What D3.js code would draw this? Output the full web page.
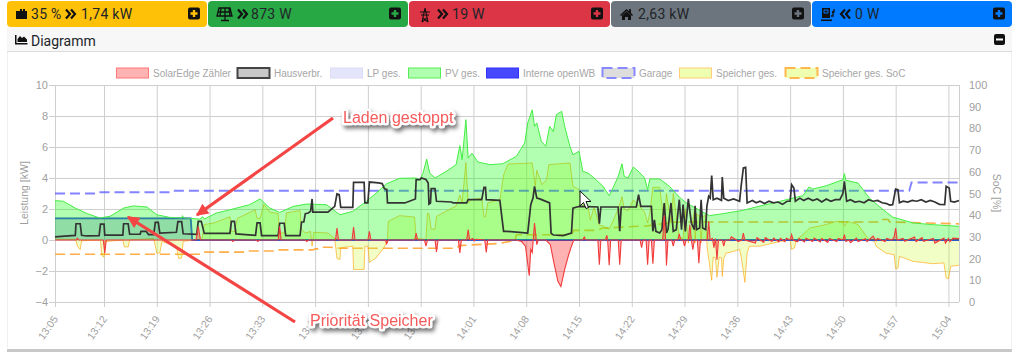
<!DOCTYPE html>
<html>
<head>
<meta charset="utf-8">
<script src="https://cdn.jsdelivr.net/npm/d3@7"></script>
<style>
  html, body { margin: 0; padding: 0; background: #fff; overflow: hidden; }
  svg { display: block; }
</style>
</head>
<body>
<div id="chart"></div>
<script>
// all times are minutes after 13:05, power in kW, soc in %
const tickLabels = ["13:05", "13:12", "13:19", "13:26", "13:33", "13:40", "13:47", "13:54", "14:01", "14:08", "14:15", "14:22", "14:29", "14:36", "14:43", "14:50", "14:57", "15:04"]
const tickMinutes = [0, 7, 14, 21, 28, 35, 42, 49, 56, 63, 70, 77, 84, 91, 98, 105, 112, 119]
const powerTicks = [-4, -2, 0, 2, 4, 6, 8, 10]
const socTicks = [0, 10, 20, 30, 40, 50, 60, 70, 80, 90, 100]

const pvMin = [0, 1.2, 2.9, 4.6, 6.4, 7.8, 9.6, 10.9, 12.7, 14, 15.7, 17.3, 17.4, 17.6, 19.7, 20.1, 20.3, 21.9, 24.1, 26.3, 27.7, 29, 30.3, 32.1, 33.9, 36.5, 38.3, 40, 41.8, 43.1, 44.5, 46.2, 48.4, 48.9, 49.3, 49.8, 50.2, 50.9, 52.4, 53.7, 54.2, 54.5, 55, 55.3, 55.8, 56.6, 58.2, 59.9, 61.7, 62.8, 63.2, 63.8, 64.1, 64.4, 65, 65.6, 66.1, 66.6, 67, 67.7, 68.1, 68.8, 69.2, 70, 70.5, 71.2, 72, 73.2, 74, 74.3, 75.2, 75.7, 76, 76.5, 77.2, 78, 78.7, 79.1, 79.4, 80.7, 82, 83.3, 84.2, 87.3, 89.1, 91.7, 93.5, 96.6, 99.7, 100.5, 101, 102.8, 105, 105.2, 105.4, 107, 108.5, 109.8, 111.6, 114.3, 116.9, 120.4]
const pvKw = [2.54, 2.5, 2.06, 1.7, 1.42, 1.53, 2.06, 2.2, 2.13, 1.63, 1.46, 1.42, 1.57, 1.42, 1.35, 1.5, 1.35, 1.74, 2.0, 2.28, 2.65, 2.06, 1.78, 2.17, 2.32, 2.28, 1.63, 1.85, 2.5, 3.03, 3.63, 3.98, 4.0, 3.9, 4.3, 5.22, 4.32, 4.0, 4.43, 4.86, 6.09, 5.18, 7.76, 5.29, 5.6, 5.03, 4.86, 4.92, 5.4, 6.26, 7.55, 8.4, 7.33, 7.55, 6.37, 6.04, 7.33, 7.0, 8.09, 8.3, 7.33, 6.04, 5.5, 5.72, 4.43, 4.32, 4.0, 3.46, 2.86, 3.14, 4.1, 4.92, 4.1, 4.0, 4.71, 4.37, 4.0, 3.25, 3.94, 3.94, 3.46, 2.77, 2.4, 1.57, 1.7, 1.91, 2.13, 2.49, 2.86, 3.42, 3.29, 3.5, 3.89, 4.28, 3.85, 3.68, 2.71, 2.17, 1.48, 1.1, 0.99, 0.88]

const hausMin = [0, 1.4, 2.9, 3, 3.6, 3.8, 4.5, 6.3, 6.5, 7, 7.1, 9.5, 9.6, 10.2, 10.4, 11.8, 11.9, 12.6, 12.9, 13.6, 13.8, 14.2, 14.4, 16.6, 16.8, 17.3, 17.5, 19.3, 19.5, 19.9, 20.3, 23.7, 23.9, 24.3, 24.5, 27.1, 27.3, 27.7, 27.9, 30.1, 30.3, 30.9, 31.1, 33, 33.2, 33.5, 33.7, 34.1, 34.4, 34.6, 34.7, 36.7, 37.6, 37.9, 38.2, 38.4, 40, 40.1, 41.5, 41.6, 42, 42.2, 43.4, 43.9, 44.2, 44.5, 44.6, 46.9, 48.3, 48.4, 48.9, 49.1, 49.7, 50, 50.1, 50.3, 50.4, 50.9, 51.1, 53.1, 53.3, 55.1, 55.3, 57.1, 57.4, 57.6, 57.7, 59.5, 60, 60.4, 63.2, 63.6, 63.9, 64.1, 64.4, 64.8, 66.1, 66.3, 66.6, 67.9, 69, 69.2, 69.7, 70.1, 72.5, 72.7, 72.9, 75.2, 75.4, 75.6, 77.6, 77.9, 78.2, 79.6, 79.8, 80, 80.2, 80.7, 81, 81.3, 81.6, 81.8, 82.2, 82.5, 82.9, 83.3, 83.6, 83.8, 84.1, 84.5, 84.9, 85.3, 85.4, 85.6, 86, 86.2, 86.4, 86.8, 86.96, 87.2, 87.4, 87.6, 87.8, 88.3, 88.9, 89, 89.2, 89.8, 90.5, 91.3, 91.5, 91.8, 92.1, 92.3, 93, 93.5, 94, 94.6, 95.2, 95.8, 96.4, 97, 97.6, 98, 98.2, 98.5, 98.7, 99.3, 99.8, 100.4, 101, 101.6, 102.2, 102.8, 103.4, 104, 104.6, 105, 105.2, 105.5, 106, 106.6, 107.2, 107.8, 108.4, 109, 109.6, 110.2, 110.8, 111.2, 111.6, 112, 112.3, 112.5, 113, 113.6, 114.2, 114.8, 115.4, 116, 116.6, 117.2, 117.8, 118.5, 118.7, 119.1, 119.3, 119.8, 120.4]
const hausKw = [0.2, 0.25, 0.3, 1.05, 1.05, 0.3, 0.26, 0.28, 1.03, 1.03, 0.32, 0.32, 1.05, 1.05, 0.37, 0.37, 0.56, 0.56, 0.35, 0.35, 1.14, 1.14, 0.45, 0.5, 1.18, 1.18, 0.4, 0.37, 1.2, 1.2, 0.43, 0.43, 1.2, 1.2, 0.39, 0.3, 1.1, 1.1, 0.28, 0.28, 1.08, 1.08, 0.28, 0.28, 1.16, 1.16, 1.7, 1.74, 1.85, 2.65, 1.8, 1.8, 2.17, 2.97, 2.92, 2.1, 2.1, 3.72, 3.72, 2.39, 2.39, 3.74, 3.68, 3.64, 3.3, 3.26, 2.39, 2.39, 2.65, 3.9, 3.9, 4, 3.9, 3.67, 2.32, 2.39, 3.31, 3.31, 2.5, 2.45, 2.39, 2.39, 2.6, 2.6, 3.4, 3.4, 2.6, 2.56, 0.56, 0.56, 0.45, 2.28, 2.71, 3.46, 2.71, 2.65, 2.39, 0.45, 0.32, 0.28, 0.45, 2.06, 2.13, 2.17, 2.13, 1.05, 2.13, 2.13, 0.56, 2.13, 2.13, 2.92, 2.17, 2.17, 0.56, 1.3, 0.56, 0.45, 0.67, 2.39, 0.45, 0.67, 2.39, 0.56, 0.67, 2.6, 0.67, 2.28, 0.56, 2.65, 1.1, 0.67, 2.2, 0.67, 0.78, 2.6, 0.78, 0.67, 2.17, 2.82, 2.7, 4.15, 2.6, 2.7, 2.56, 4.06, 2.7, 2.55, 2.65, 2.5, 3.46, 4.65, 4.69, 2.39, 2.55, 2.4, 2.5, 2.35, 2.5, 2.4, 2.45, 2.3, 2.5, 2.5, 3.57, 3.35, 2.5, 2.7, 2.55, 2.7, 2.55, 2.65, 2.45, 2.65, 2.5, 2.6, 2.6, 3, 3.78, 2.5, 2.6, 2.45, 2.5, 2.4, 2.6, 2.5, 2.55, 2.4, 2.35, 2.25, 2.28, 3.29, 3.25, 2.4, 2.5, 2.45, 2.55, 2.5, 2.6, 2.45, 2.55, 2.45, 2.3, 2.28, 3.46, 3.35, 2.5, 2.45, 2.55]

const speicherMin = [0, 2.9, 3, 3.2, 3.6, 3.8, 6.3, 6.5, 6.7, 7, 7.2, 9.5, 9.7, 10.2, 10.4, 13.6, 13.8, 14, 14.4, 14.7, 16.6, 16.9, 17.3, 17.5, 18.6, 20, 20.3, 21.6, 23.7, 23.9, 24.3, 24.7, 27.05, 27.3, 27.7, 28.2, 29, 30.1, 30.3, 30.9, 31.2, 33, 33.2, 33.7, 34.4, 34.6, 34.8, 36.7, 37.6, 37.9, 38.3, 38.4, 40, 40.1, 41.5, 41.6, 42, 42.2, 43.1, 44.2, 44.6, 44.7, 46.2, 48.2, 48.4, 49.7, 49.9, 50.1, 50.4, 50.9, 51.1, 53.7, 54.2, 54.5, 55, 55.3, 55.8, 57.1, 57.4, 57.6, 57.9, 59.5, 60, 60.6, 63.8, 64.2, 64.4, 65.1, 65.7, 66, 68.8, 69.2, 70, 70.6, 71.2, 71.5, 72, 72.7, 73.2, 74, 74.3, 75.2, 75.7, 76, 76.5, 77.2, 78, 78.7, 79.1, 79.4, 79.8, 80.7, 81.3, 81.6, 82.2, 82.5, 83.3, 83.8, 84.1, 84.5, 85, 85.3, 85.4, 85.6, 86, 86.2, 86.4, 86.8, 87, 87.2, 87.6, 87.8, 88.1, 88.3, 88.6, 88.9, 89, 89.2, 89.5, 90.4, 91.3, 91.5, 91.7, 92, 92.3, 92.6, 94, 96.6, 98, 98.2, 98.6, 98.8, 99.7, 100.6, 102.8, 104.1, 105, 105.2, 105.6, 107, 108.1, 108.5, 109.2, 109.4, 110.7, 111.8, 112, 112.3, 112.5, 114.3, 115.6, 116.9, 118.4, 118.7, 119, 119.3, 120.4]
const speicherKw = [0.05, 0.05, -0.05, -0.4, -0.62, -0.05, 0, -0.1, -1, -1.1, -0.1, 0, -0.45, -0.45, 0, 0.1, -0.4, -0.84, -0.84, -0.1, -0.4, -1.2, -1.16, -0.1, 0, 0.05, 1, 1.1, 1.5, 0.55, 0.55, 1.4, 1.95, 1.4, 1.4, 2.3, 1.8, 1.7, 0.45, 0.45, 1.75, 1.9, 0.7, 0.45, 0.55, -0.4, 0.5, 0.45, 0.1, -1.2, -1.25, -0.5, -0.4, -1.9, -1.9, -0.4, -0.4, -1.44, -1.15, -0.45, 0.05, 1.2, 1.57, 1.48, 0.1, 0.05, 1.74, 1.7, 0.7, 0.7, 1.53, 2.2, 2.9, 2.4, 5, 2.4, 2.6, 2.7, 1.5, 1.5, 2.4, 2.6, 4.2, 4.9, 4.97, 3.5, 4.5, 3.57, 3.9, 4.86, 4.97, 3.46, 3.25, 2.17, 2.17, 1.3, 2.1, 0.95, 0.9, 0.7, 1, 2, 2.8, 2, 1.9, 2.58, 2.2, 1.8, 1.1, 1.77, 3.4, 3.4, 1.1, 3, 1.1, 3, 0.2, 0.1, 2, -0.2, 1, 1.9, -0.2, 1.7, 1.5, -0.2, 1.5, 1.6, -0.5, -1.2, -2.6, -1.1, -1.15, -2.4, -1.1, -1.15, -2.35, -1.2, -0.85, -0.75, -0.6, -1.05, -1.7, -2.73, -0.85, -0.4, -0.4, -0.1, 0, -0.6, -0.5, 0, 0.35, 0.77, 1, 1.2, 1.2, 0.9, 1.2, 1, 0.25, 0, -0.1, -0.4, -0.85, -0.95, -1.85, -1.8, -1.05, -1.38, -1.45, -1.53, -1.48, -2.45, -2.5, -1.7, -1.63]

const zaehlerMin = [
  0, 3, 3.2, 3.4,
  6.9, 7.1, 7.3,
  19.2, 19.5, 19.8,
  23.9, 24.1, 24.3,
  27.2, 27.4, 27.6,
  30.1, 30.3, 30.5,
  33.7, 33.9, 34.1,
  37.7, 37.9, 38.1,
  39.9, 40.1, 40.3,
  42, 42.2, 42.4,
  44.3, 44.5, 44.7,
  48.2, 48.4, 48.6,
  49.5, 49.7, 49.9,
  50.9, 51.1, 51.3,
  54, 54.2, 54.4,
  55.1, 55.3, 55.5,
  55.9, 56.1, 56.3,
  57.5, 57.7, 57.9,
  59.5, 61.6, 62.4, 62.9, 63.4, 63.6, 63.8, 64.1, 64.4, 64.6,
  65.6, 66.2, 66.6, 67.2, 67.6, 68.1, 68.6, 69, 69.3,
  70.5, 70.7, 70.9,
  72.5, 72.7, 72.9,
  73.5, 73.7, 73.8, 74, 74.2,
  75.2, 75.4, 75.6,
  78.1, 78.3, 78.5,
  78.9, 79.1, 79.3,
  79.6, 79.8, 80,
  81.1, 81.3, 81.5, 81.6, 81.8,
  82.3, 82.5, 82.7,
  83.1, 83.3, 83.5,
  83.8, 84, 84.2,
  84.5, 84.7, 84.9, 85.1, 85.3,
  85.7, 85.9, 86.1,
  87, 87.2, 87.4,
  87.7, 87.9, 88.1, 88.3, 88.5,
  89, 89.2, 89.4,
  90, 90.2, 90.9, 91.1, 91.6, 91.8, 92,
  93.4, 93.6, 94.5, 94.7, 95.6, 95.8, 96.5, 96.7, 97.3, 97.5,
  98, 98.2, 98.4, 99, 99.2, 99.9, 100.1, 101, 101.2, 102, 102.2,
  103, 103.2, 104.2, 104.4, 105, 105.2, 105.4, 105.8, 106, 106.8, 107,
  108, 108.2, 109, 109.4, 109.6, 110.6, 110.8, 111.5, 111.8, 112, 112.2,
  113, 113.2, 114.5, 114.7, 115.5, 115.7, 117, 117.2, 118.4, 118.6, 119, 119.2, 119.6, 120.4
]
const zaehlerKw = [
  0, 0, 0.12, 0,
  0, -0.85, 0,
  0, 0.88, 0,
  0, -0.1, 0,
  0, -0.1, 0,
  0, 0.88, 0,
  0, -0.1, 0,
  0, 0.77, 0,
  0, 0.84, 0,
  0, 0.56, 0,
  0, -0.24, 0,
  0, 0.45, 0,
  0, -0.4, 0,
  0, -0.77, 0,
  0, -0.84, 0,
  0, 0.67, 0,
  0.1, -0.05, 0.05,
  0, -0.8, 0,
  0, 0, -0.1, -0.4, -2.3, -0.6, -0.8, 1.1, -0.3, 0,
  0, -0.3, -1.3, -2.67, -3, -1.9, -1, -0.4, 0,
  0, 0.2, 0,
  0, -1.6, 0,
  0, 0.3, 0, -1.63, 0,
  0, -1.6, 0,
  0, -0.5, 0,
  0, -1.6, 0,
  0, -1.53, 0,
  0, 1.6, 0, -1.65, 0,
  0, -0.4, 0,
  0, 0.4, 0,
  0, -0.4, 0,
  0, 1, 0, -0.62, 0,
  0, -1.5, 0,
  0, 1.2, 0,
  0.1, -0.5, 0.1, -1.27, 0,
  0, -0.4, 0,
  0, 0.2, 0, -0.1, 0, 0.45, 0,
  -0.2, 0.15, -0.15, 0.15, -0.1, 0.12, -0.12, 0.1, -0.1, 0.12,
  0, 0.35, 0, -0.12, 0.1, -0.12, 0.12, -0.1, 0.12, -0.12, 0.1,
  -0.15, 0.1, -0.1, 0.1, 0, 0.35, -0.1, 0, -0.18, 0.12, -0.1,
  0.08, -0.1, 0.25, -0.05, 0.1, -0.1, 0.1, 0, 0.2, 0.77, 0,
  0.1, -0.08, 0.2, -0.1, 0.15, -0.08, 0.1, -0.2, 0.12, -0.2, 0.1, -0.1, 0.12, 0.1
]

const interneMin = [0, 18.5, 18.7, 120.4]
const interneKw = [1.4, 1.4, 0, 0]
const lpMin = [0, 18.5, 18.7, 120.4]
const lpKw = [1.4, 1.4, 0, 0]

const garageMin = [0, 6, 6.2, 16, 16.2, 113.8, 114.1, 120.4]
const garageSoc = [50, 50, 50.6, 50.6, 51.3, 51.3, 55.1, 55.1]

const speicherSocMin = [0, 19.8, 20.1, 25.8, 26, 29.5, 29.8, 34.7, 35, 35.4, 35.7, 37, 38.3, 53.8, 54.1, 59.5, 61.5, 61.7, 69, 69.3, 72.5, 73, 79, 83, 87, 87.3, 109.8, 110, 111, 111.2, 120.4]
const speicherSoc = [22, 22, 23, 23, 23.5, 23.5, 24, 24, 24.5, 24.5, 25.2, 25.2, 24.8, 24.8, 26, 27, 28.4, 31, 31, 33, 33, 34, 35.1, 36.9, 36.9, 36.9, 36.9, 38, 38, 36.9, 36]

const width = 1023
const height = 352
const plot = { left: 55, right: 959, top: 85, bottom: 302 }

const svg = d3.select("#chart")
  .append("svg")
  .attr("width", width)
  .attr("height", height)
  .style("font-family", "'Liberation Sans', sans-serif")

// time axis is slightly squeezed over its first label step, like the original
const xScale = d3.scaleLinear()
  .domain([0, 7, 120.4])
  .range([plot.left, 104, plot.right])

const yPower = d3.scaleLinear()
  .domain([-4, 10])
  .range([plot.bottom, plot.top])

const ySoc = d3.scaleLinear()
  .domain([0, 100])
  .range([plot.bottom, plot.top])

// ---- header buttons ----
const buttons = [
  { x: 7, w: 200, fill: "#ffc107", plus: "#ffc107" },
  { x: 208, w: 200, fill: "#28a745", plus: "#28a745" },
  { x: 409, w: 201, fill: "#dc3545", plus: "#dc3545" },
  { x: 611, w: 200, fill: "#6c757d", plus: "#6c757d" },
  { x: 812, w: 200, fill: "#007bff", plus: "#007bff" }
]

svg.selectAll(".btn")
  .data(buttons)
  .enter()
  .append("rect")
  .attr("class", "btn")
  .attr("x", d => d.x)
  .attr("y", 1)
  .attr("width", d => d.w)
  .attr("height", 26)
  .attr("rx", 4)
  .attr("fill", d => d.fill)

buttons.forEach(b => {
  const px = b.x + b.w - 19
  svg.append("rect").attr("x", px).attr("y", 7.5).attr("width", 12).attr("height", 12).attr("rx", 2).attr("fill", "#111")
  svg.append("path")
    .attr("d", `M${px + 6},${10} V${17} M${px + 2.5},${13.5} H${px + 9.5}`)
    .attr("stroke", b.plus)
    .attr("stroke-width", 2.4)
})

const headerTexts = [
  { x: 31, text: "35 %" },
  { x: 81, text: "1,74 kW" },
  { x: 251, text: "873 W" },
  { x: 452, text: "19 W" },
  { x: 638, text: "2,63 kW" },
  { x: 855, text: "0 W" }
]

svg.selectAll(".head")
  .data(headerTexts)
  .enter()
  .append("text")
  .attr("class", "head")
  .attr("x", d => d.x)
  .attr("y", 19)
  .attr("fill", "#212529")
  .style("font-family", "Roboto, sans-serif")
  .style("font-size", "14px")
  .style("letter-spacing", "0.3px")
  .text(d => d.text)

// double chevrons between icon and value
function chevrons(x, right) {
  const s = right ? 1 : -1
  const x0 = right ? x : x + 9
  const d = [0, 5].map(o => `M${x0 + s * o},9.5 l${s * 4},4.5 l${-s * 4},4.5`).join(" ")
  svg.append("path").attr("d", d).attr("fill", "none").attr("stroke", "#111").attr("stroke-width", 2.2)
}
chevrons(66, true)
chevrons(238, true)
chevrons(438, true)
chevrons(841, false)

// small header icons
const ink = "#111"
svg.append("path").attr("fill", ink).attr("d", "M16,11 h4 v-2 h2 v2 h1 v-2 h2 v2 h2 v8 h-11 z")
svg.append("path").attr("fill", "none").attr("stroke", ink).attr("stroke-width", 1.3)
  .attr("d", "M219,8 h11 l2,8 h-15 z M218,12 h13 M221,8 l-1,8 M225,8 v8 M229,8 l1,8 M225,16 v4 M221,20.5 h8")
svg.append("path").attr("fill", "none").attr("stroke", ink).attr("stroke-width", 1.1)
  .attr("d", "M425,8 l-3,14 M425,8 l3,14 M420,12 h10 M421,15 h8 M423,18 l5,4 M427,18 l-5,4")
svg.append("path").attr("fill", ink).attr("d", "M620,15 l6.5,-6 l2.5,2.3 v-2 h2 v3.8 l2,1.9 l-1,1 l-5.5,-5 l-5.5,5 z M622,15.5 l4.5,-4 l4.5,4 v4.5 h-3 v-3 h-3 v3 h-3 z")
svg.append("path").attr("fill", ink).attr("d", "M822,8 h8 v10 h-8 z M821,19.5 h11 v1.5 h-11 z")
svg.append("path").attr("fill", "none").attr("stroke", "#007bff").attr("stroke-width", 1).attr("d", "M824,10 h4 v3 h-4 z")
svg.append("path").attr("fill", "none").attr("stroke", ink).attr("stroke-width", 1.3).attr("d", "M831,16 h2 v-5 M834,9 v3 h-2")

// ---- card header ----
svg.append("rect").attr("x", 7).attr("y", 27).attr("width", 1005).attr("height", 24).attr("fill", "#f7f7f7")
svg.append("line").attr("x1", 7).attr("x2", 1012).attr("y1", 51.5).attr("y2", 51.5).attr("stroke", "#dcdcdc")
svg.append("line").attr("x1", 7.5).attr("x2", 7.5).attr("y1", 52).attr("y2", 348).attr("stroke", "#f0f0f0")
svg.append("line").attr("x1", 1011.5).attr("x2", 1011.5).attr("y1", 52).attr("y2", 348).attr("stroke", "#f0f0f0")
svg.append("rect").attr("x", 7).attr("y", 349).attr("width", 1005).attr("height", 3).attr("fill", "#c8c8c8")

svg.append("path").attr("fill", ink).attr("d", "M15,35 h1.5 v8 h11 v1.5 h-12.5 z M17.5,42 v-3 l2.5,-3 l2,2 l2,-1.5 l3,3 v2.5 z")
svg.append("text")
  .attr("x", 31).attr("y", 45.5)
  .attr("fill", "#212529")
  .style("font-family", "Roboto, sans-serif")
  .style("font-size", "14px")
  .text("Diagramm")
svg.append("rect").attr("x", 994).attr("y", 34).attr("width", 11).attr("height", 11).attr("rx", 2).attr("fill", "#111")
svg.append("rect").attr("x", 996).attr("y", 38.5).attr("width", 7).attr("height", 2).attr("fill", "#fff")

// ---- legend ----
const legend = [
  { x: 116, name: "SolarEdge Zähler", fill: "#ffb3b3", stroke: "#ff7777" },
  { x: 237, name: "Hausverbr.", fill: "#c8c8c8", stroke: "#444444", sw: 2 },
  { x: 330, name: "LP ges.", fill: "#e4e4fa", stroke: "#dcdcf5" },
  { x: 408, name: "PV ges.", fill: "#b0ffb0", stroke: "#55ee55" },
  { x: 486, name: "Interne openWB", fill: "#4848ff", stroke: "#3030ff" },
  { x: 602, name: "Garage", fill: "#dddddd", stroke: "#8888ff", dash: "10,5", sw: 2 },
  { x: 679, name: "Speicher ges.", fill: "#eeffb0", stroke: "#ffcc77" },
  { x: 785, name: "Speicher ges. SoC", fill: "#eeffb0", stroke: "#ffb84d", dash: "10,5", sw: 2 }
]

const legendItems = svg.selectAll(".legend")
  .data(legend)
  .enter()
  .append("g")
  .attr("class", "legend")
  .attr("transform", d => `translate(${d.x},67.5)`)

legendItems.append("rect")
  .attr("x", 0.5).attr("y", 0.5)
  .attr("width", 32).attr("height", 10)
  .attr("fill", d => d.fill)
  .attr("stroke", d => d.stroke)
  .attr("stroke-width", d => d.sw || 1)
  .attr("stroke-dasharray", d => d.dash || null)

legendItems.append("text")
  .attr("x", 37).attr("y", 9)
  .attr("fill", "#a6a6a6")
  .style("font-size", "10px")
  .text(d => d.name)

// ---- axes and grid ----
const axisColor = "#a0a0a0"
const gridColor = "#cfcfcf"

const yAxisLeft = svg.append("g")
  .attr("transform", "translate(49,0)")
  .call(d3.axisLeft(yPower).tickValues(powerTicks).tickSize(-(plot.right - 49)).tickPadding(1))

const xAxis = svg.append("g")
  .attr("transform", `translate(0,${plot.bottom + 5})`)
  .call(d3.axisBottom(xScale)
    .tickValues(tickMinutes)
    .tickFormat((d, i) => tickLabels[i])
    .tickSize(-(plot.bottom + 5 - plot.top)))

xAxis.selectAll("text")
  .attr("text-anchor", "end")
  .attr("dx", 0)
  .attr("dy", 0)
  .attr("y", 0)
  .attr("transform", "translate(3,12) rotate(-55)")

const yAxisRight = svg.append("g")
  .attr("transform", `translate(${plot.right},0)`)
  .call(d3.axisRight(ySoc).tickValues(socTicks).tickSize(0).tickPadding(10))

svg.selectAll(".domain").attr("stroke", "none")
svg.selectAll(".tick line").attr("stroke", gridColor)
svg.selectAll(".tick text").attr("fill", axisColor).style("font-size", "11px")
xAxis.selectAll("text").style("font-size", "10.5px")
yAxisRight.append("line")
  .attr("x1", 0.5).attr("x2", 0.5)
  .attr("y1", plot.top).attr("y2", plot.bottom)
  .attr("stroke", gridColor)

svg.append("text")
  .attr("transform", "translate(28,193) rotate(-90)")
  .attr("text-anchor", "middle")
  .attr("fill", axisColor)
  .style("font-size", "10.5px")
  .text("Leistung [kW]")

svg.append("text")
  .attr("transform", "translate(993,193) rotate(90)")
  .attr("text-anchor", "middle")
  .attr("fill", axisColor)
  .style("font-size", "10.5px")
  .text("SoC [%]")

// ---- series, last legend entry drawn first so red ends up on top ----
function zip(xs, ys) {
  return xs.map((x, i) => [x, ys[i]])
}

const powerLine = d3.line().x(d => xScale(d[0])).y(d => yPower(d[1]))
const socLine = d3.line().x(d => xScale(d[0])).y(d => ySoc(d[1]))
const powerArea = d3.area().x(d => xScale(d[0])).y0(yPower(0)).y1(d => yPower(d[1]))

function addArea(data, fill, stroke, strokeWidth) {
  svg.append("path").datum(data).attr("d", powerArea).attr("fill", fill)
  svg.append("path").datum(data).attr("d", powerLine)
    .attr("fill", "none")
    .attr("stroke", stroke)
    .attr("stroke-width", strokeWidth)
}

function addDashed(data, stroke, strokeWidth) {
  svg.append("path").datum(data).attr("d", socLine)
    .attr("fill", "none")
    .attr("stroke", stroke)
    .attr("stroke-width", strokeWidth)
    .attr("stroke-dasharray", "10,5")
}

addDashed(zip(speicherSocMin, speicherSoc), "rgba(255,160,40,0.85)", 1.6)
addArea(zip(speicherMin, speicherKw), "rgba(205,250,40,0.27)", "rgba(255,160,0,0.6)", 1)
addDashed(zip(garageMin, garageSoc), "rgba(90,90,255,0.75)", 1.9)
addArea(zip(interneMin, interneKw), "rgba(0,40,130,0.17)", "#2050c8", 1.8)
addArea(zip(pvMin, pvKw), "rgba(0,255,0,0.3)", "#44ee44", 1)
addArea(zip(lpMin, lpKw), "rgba(80,80,220,0.06)", "rgba(120,120,240,0.3)", 1)
svg.append("path").datum(zip(hausMin, hausKw)).attr("d", powerLine)
  .attr("fill", "none")
  .attr("stroke", "#333")
  .attr("stroke-width", 1.7)
addArea(zip(zaehlerMin, zaehlerKw), "rgba(255,0,0,0.3)", "#f03c3c", 1.1)

// ---- screenshot annotations ----
const defs = svg.append("defs")
defs.append("marker")
  .attr("id", "head")
  .attr("viewBox", "0 0 10 10")
  .attr("refX", 9)
  .attr("refY", 5)
  .attr("markerWidth", 4.6)
  .attr("markerHeight", 3.8)
  .attr("orient", "auto")
  .append("path")
  .attr("d", "M0,0 L10,5 L0,10 z")
  .attr("fill", "#f44545")

const arrows = [
  { x1: 333, y1: 118, x2: 197, y2: 215 },
  { x1: 295, y1: 322, x2: 128, y2: 217 }
]

svg.selectAll(".arrow")
  .data(arrows)
  .enter()
  .append("line")
  .attr("class", "arrow")
  .attr("x1", d => d.x1)
  .attr("y1", d => d.y1)
  .attr("x2", d => d.x2)
  .attr("y2", d => d.y2)
  .attr("stroke", "#f44545")
  .attr("stroke-width", 3.2)
  .attr("marker-end", "url(#head)")

const notes = [
  { x: 343, y: 123, text: "Laden gestoppt" },
  { x: 310, y: 326, text: "Priorität Speicher" }
]

svg.selectAll(".note")
  .data(notes)
  .enter()
  .append("text")
  .attr("class", "note")
  .attr("x", d => d.x)
  .attr("y", d => d.y)
  .attr("fill", "#f45b5b")
  .attr("stroke", "#fff")
  .attr("stroke-width", 5)
  .attr("stroke-linejoin", "round")
  .attr("paint-order", "stroke")
  .style("font-size", "16px")
  .style("filter", "drop-shadow(2px 3px 2px rgba(0,0,0,0.55))")
  .text(d => d.text)

// mouse cursor in the screenshot
svg.append("path")
  .attr("d", "M580,191 v15 l3.5,-3.5 l2.5,6 l2.5,-1 l-2.5,-6 h5 z")
  .attr("fill", "#fff")
  .attr("stroke", "#111")
  .attr("stroke-width", 1)
</script>
</body>
</html>
